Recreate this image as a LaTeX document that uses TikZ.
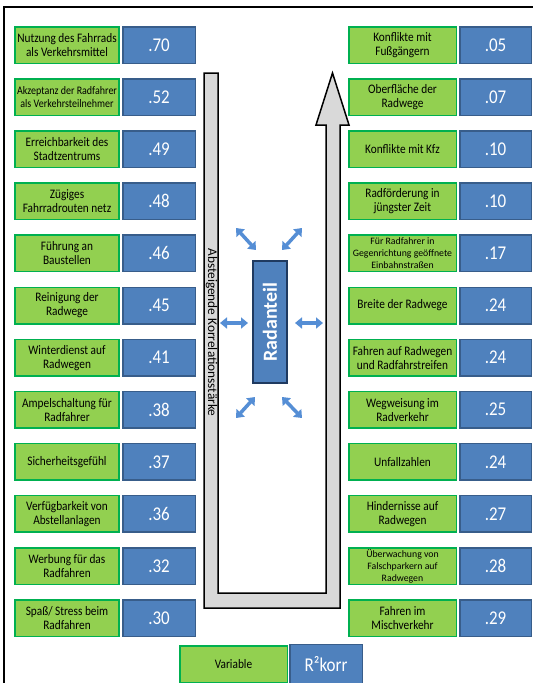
\documentclass[tikz,border=0pt]{standalone}
\usepackage{fontspec}
\setmainfont{Carlito}
\newfontfamily\nf{Carlito}[FakeStretch=0.87]
\usetikzlibrary{arrows.meta}
\definecolor{gfill}{HTML}{92D050}
\definecolor{gline}{HTML}{00B050}
\definecolor{bfill}{HTML}{4F81BD}
\definecolor{bline}{HTML}{385D8A}
\definecolor{afill}{HTML}{558ED5}
\definecolor{ugray}{HTML}{D9D9D9}
\definecolor{rline}{HTML}{1F3A60}
\newcommand\myrow[8]{%
  \node[gbox, #3, minimum width=104pt] (L#1) at (67,#2) {#4};
  \node[bbox, minimum width=72.5pt] (LV#1) at (159,#2) {#5};
  \node[gbox, #6, minimum width=107.5pt] (R#1) at (402.5,#2) {#7};
  \node[bbox, minimum width=71.5pt] (RV#1) at (495.5,#2) {#8};
}
\begin{document}
\begin{tikzpicture}[x=1pt,y=-1pt,
  gbox/.style={draw=gline, fill=gfill, line width=1.5pt, minimum height=36.5pt,
    align=center, inner sep=1pt, text=black, font=\nf\fontsize{13}{14}\selectfont},
  bbox/.style={draw=bline, fill=bfill, line width=1.5pt, minimum height=36.5pt,
    inner sep=1pt, text=white, font=\nf\fontsize{19.5}{22}\selectfont},
  barrow/.style={draw=afill, line width=3.5pt,
    {Triangle[width=11pt,length=7pt]}-{Triangle[width=11pt,length=7pt]}},
  normtxt/.style={},
  midtxt/.style={font=\nf\fontsize{11.5}{13}\selectfont},
  smalltxt/.style={font=\rmfamily\fontsize{9.8}{12}\selectfont}]
\useasboundingbox (0,0) rectangle (533,683);
\clip (0,0) rectangle (533,683);
\fill[white] (0,0) rectangle (533,683);
% frame
\draw[line width=1.5pt] (4,700) -- (4,7) -- (545,7);
% U-shaped arrow
\draw[fill=ugray, line width=1.5pt, line join=miter]
  (204,73) -- (218,73) -- (218,593) -- (326,593) -- (326,125) -- (316,125)
  -- (332.5,73) -- (349,125) -- (340,125) -- (340,608) -- (204,608) -- cycle;
\node[rotate=-90, inner sep=0pt, font=\fontsize{13.3}{15}\selectfont] (vt) at (211.5,332.5) {Absteigende Korrelationsstärke};
% centre
\node[rotate=90, draw=rline, fill=bfill, line width=1.2pt, minimum width=122pt, minimum height=34pt,
  inner sep=0pt, text=white, font=\bfseries\fontsize{20}{24}\selectfont] (rad) at (270,322) {Radanteil};
\coordinate (a1) at (220,323); \coordinate (a2) at (248,323);
\coordinate (b1) at (295,323); \coordinate (b2) at (323,323);
\coordinate (c1) at (236,228); \coordinate (c2) at (256,250);
\coordinate (d1) at (302,228); \coordinate (d2) at (282,250);
\coordinate (e1) at (255,397); \coordinate (e2) at (236,418);
\coordinate (f1) at (282,397); \coordinate (f2) at (302,418);
\draw[barrow] (a1) -- (a2);
\draw[barrow] (b1) -- (b2);
\draw[barrow] (c1) -- (c2);
\draw[barrow] (d1) -- (d2);
\draw[barrow] (e1) -- (e2);
\draw[barrow] (f1) -- (f2);
% rows
\myrow{1}{45}{normtxt}{Nutzung des Fahrrads\\als Verkehrsmittel}{.70}{normtxt}{Konflikte mit\\Fußgängern}{.05}
\myrow{2}{97.1}{midtxt}{Akzeptanz der Radfahrer\\als Verkehrsteilnehmer}{.52}{normtxt}{Oberfläche der\\Radwege}{.07}
\myrow{3}{149.2}{normtxt}{Erreichbarkeit des\\Stadtzentrums}{.49}{normtxt}{Konflikte mit Kfz}{.10}
\myrow{4}{201.3}{normtxt}{Zügiges\\Fahrradrouten netz}{.48}{normtxt}{Radförderung in\\jüngster Zeit}{.10}
\myrow{5}{253.4}{normtxt}{Führung an\\Baustellen}{.46}{smalltxt}{Für Radfahrer in\\Gegenrichtung geöffnete\\Einbahnstraßen}{.17}
\myrow{6}{305.5}{normtxt}{Reinigung der\\Radwege}{.45}{normtxt}{Breite der Radwege}{.24}
\myrow{7}{357.6}{normtxt}{Winterdienst auf\\Radwegen}{.41}{normtxt}{Fahren auf Radwegen\\und Radfahrstreifen}{.24}
\myrow{8}{409.7}{normtxt}{Ampelschaltung für\\Radfahrer}{.38}{normtxt}{Wegweisung im\\Radverkehr}{.25}
\myrow{9}{461.8}{normtxt}{Sicherheitsgefühl}{.37}{normtxt}{Unfallzahlen}{.24}
\myrow{10}{513.9}{normtxt}{Verfügbarkeit von\\Abstellanlagen}{.36}{normtxt}{Hindernisse auf\\Radwegen}{.27}
\myrow{11}{566}{normtxt}{Werbung für das\\Radfahren}{.32}{smalltxt}{Überwachung von\\Falschparkern auf\\Radwegen}{.28}
\myrow{12}{618.1}{normtxt}{Spaß/ Stress beim\\Radfahren}{.30}{normtxt}{Fahren im\\Mischverkehr}{.29}
% legend
\node[gbox, minimum width=107.5pt, minimum height=37pt] (lg) at (233.5,664.5) {Variable};
\node[bbox, minimum width=72.5pt, minimum height=39pt] (lb) at (326,664) {R²korr};
\end{tikzpicture}
\end{document}
